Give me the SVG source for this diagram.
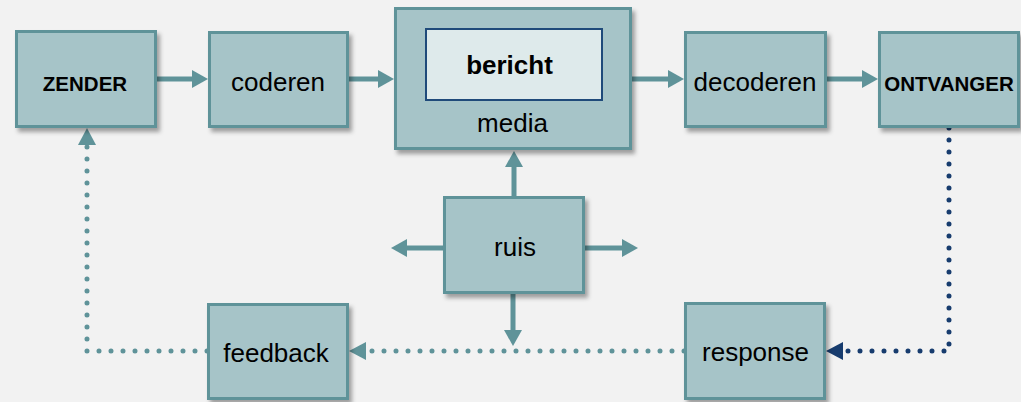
<svg xmlns="http://www.w3.org/2000/svg" width="1021" height="402" viewBox="0 0 1021 402">
<style>
.box{fill:#a6c4c8;stroke:#5f9399;stroke-width:3;filter:url(#sh)}
.inner{fill:#deeaeb;stroke:#1f4a7a;stroke-width:2}
.t{font-family:"Liberation Sans",Arial,sans-serif;font-size:26px;fill:#000;text-anchor:middle}
.tb{font-family:"Liberation Sans",Arial,sans-serif;font-size:20.5px;font-weight:bold;fill:#000;text-anchor:middle}
.b{font-weight:bold}
.arr{stroke:#5f9399;stroke-width:5;fill:none;marker-end:url(#ah)}
.dot{stroke:#5f9399;stroke-width:5;fill:none;stroke-linecap:round;stroke-dasharray:0 12;marker-end:url(#ahd)}
.dotn{stroke:#173c6e;stroke-width:5;fill:none;stroke-linecap:round;stroke-dasharray:0 12;marker-end:url(#ahn)}
</style>
<defs>
<filter id="sh" x="-10%" y="-10%" width="130%" height="130%">
<feDropShadow dx="3" dy="4" stdDeviation="2" flood-color="#000" flood-opacity="0.35"/>
</filter>
<marker id="ah" markerUnits="userSpaceOnUse" markerWidth="16" markerHeight="18" refX="8" refY="9" orient="auto">
<path d="M0,0 L16,9 L0,18 z" fill="#5f9399"/>
</marker>
<marker id="ahd" markerUnits="userSpaceOnUse" markerWidth="17" markerHeight="18" refX="0" refY="9" orient="auto">
<path d="M0,0 L17,9 L0,18 z" fill="#5f9399"/>
</marker>
<marker id="ahn" markerUnits="userSpaceOnUse" markerWidth="17" markerHeight="18" refX="0" refY="9" orient="auto">
<path d="M0,0 L17,9 L0,18 z" fill="#173c6e"/>
</marker>
</defs>
<rect width="1021" height="402" fill="#f2f2f2"/>
<g id="connectors">
<line class="arr" x1="157" y1="79" x2="200" y2="79"/>
<line class="arr" x1="349" y1="79" x2="386" y2="79"/>
<line class="arr" x1="632" y1="79" x2="676" y2="79"/>
<line class="arr" x1="827" y1="79" x2="870" y2="79"/>
<line class="arr" x1="514" y1="196" x2="514" y2="159"/>
<line class="arr" x1="443" y1="248" x2="399" y2="248"/>
<line class="arr" x1="585" y1="248" x2="630" y2="248"/>
<line class="arr" x1="513" y1="294" x2="513" y2="338"/>
<path class="dot" d="M684,351 H366"/>
<path class="dot" d="M207,351 H87 V145"/>
<path class="dotn" d="M949,128 V351 H843"/>
</g>
<g id="zender">
<rect class="box" x="16.5" y="31.5" width="139" height="95"/>
<text class="tb" x="85" y="91">ZENDER</text>
</g>
<g id="coderen">
<rect class="box" x="209.5" y="32.5" width="138" height="94"/>
<text class="t" x="278" y="91">coderen</text>
</g>
<g id="media">
<rect class="box" x="395.5" y="8.5" width="235" height="140"/>
<rect class="inner" x="426" y="29" width="176" height="71"/>
<text class="t b" x="509.5" y="74">bericht</text>
<text class="t" x="512.5" y="132">media</text>
</g>
<g id="decoderen">
<rect class="box" x="685.5" y="32.5" width="140" height="94"/>
<text class="t" x="755" y="91">decoderen</text>
</g>
<g id="ontvanger">
<rect class="box" x="879.5" y="32.5" width="139" height="94"/>
<text class="tb" x="949" y="91">ONTVANGER</text>
</g>
<g id="ruis">
<rect class="box" x="444.5" y="197.5" width="139" height="95"/>
<text class="t" x="515" y="256">ruis</text>
</g>
<g id="feedback">
<rect class="box" x="208.5" y="304.5" width="139" height="94"/>
<text class="t" x="276" y="362">feedback</text>
</g>
<g id="response">
<rect class="box" x="685.5" y="303.5" width="139" height="95"/>
<text class="t" x="755.5" y="361">response</text>
</g>
</svg>
